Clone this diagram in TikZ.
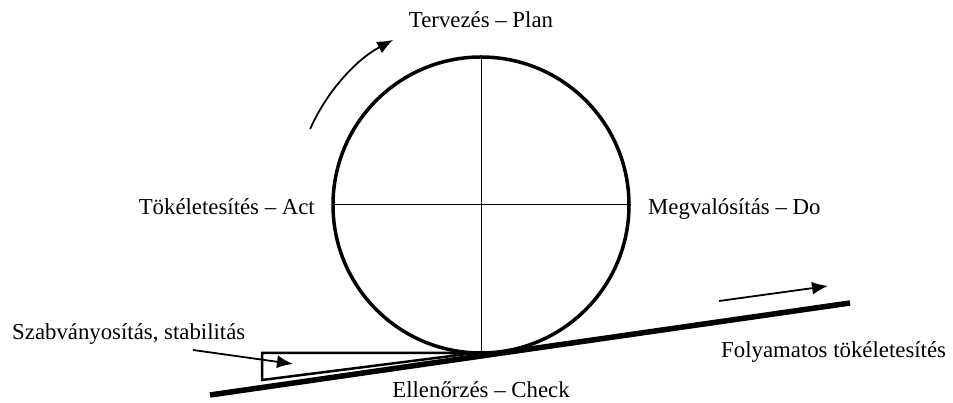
\documentclass[tikz,border=0pt]{standalone}
\usepackage{fontspec}
\setmainfont{Liberation Serif}
\usetikzlibrary{positioning,arrows.meta}

\begin{document}
\begin{tikzpicture}[x=1pt,y=1pt,
  lbl/.style={inner sep=0pt, text height=16pt, text depth=5pt, font=\fontsize{22.8}{27}\selectfont},
  arr/.style={line width=1.8pt, -{Latex[length=16pt,width=13pt]}}]

\useasboundingbox (0,0) rectangle (953,403);

\node [draw, circle, line width=3.5pt, minimum size=296pt, inner sep=0pt, outer sep=0pt] (wheel) at (481,198) {};

\draw [line width=1pt] (wheel.north) -- (wheel.south);
\draw [line width=1pt] (wheel.west) -- (wheel.east);

\node [lbl, above=24pt of wheel]               (plan)  {Tervezés – Plan};
\node [lbl, below=28pt of wheel]               (check) {Ellenőrzés – Check};
\node [lbl, left=18pt of wheel, yshift=-4.5pt]  (act)   {Tökéletesítés – Act};
\node [lbl, right=19pt of wheel, yshift=-4.5pt] (do)    {Megvalósítás – Do};
\node [lbl, anchor=base west] (stable) at (12,63) {Szabványosítás, stabilitás};
\node [lbl, anchor=base west] (improve) at (721,45) {Folyamatos tökéletesítés};

% slope and wedge
\coordinate (slopeA) at (210,8);
\coordinate (slopeB) at (850,100);
\draw [line width=5.5pt] (slopeA) -- (slopeB);

\coordinate (wedgeA) at (262,50);
\coordinate (wedgeB) at (475,50);
\coordinate (wedgeC) at (262,23);
\draw [line width=2.5pt] (wedgeA) -- (wedgeB) -- (wedgeC) -- cycle;

% arrows
\draw [arr] (wheel.center) ++(156:187) arc [start angle=156, end angle=118, radius=187];

\coordinate (stableA) at (193,53);
\coordinate (stableB) at (293,39);
\draw [arr] (stableA) -- (stableB);

\coordinate (goA) at (719,102);
\coordinate (goB) at (828,117);
\draw [arr] (goA) -- (goB);

\end{tikzpicture}
\end{document}
